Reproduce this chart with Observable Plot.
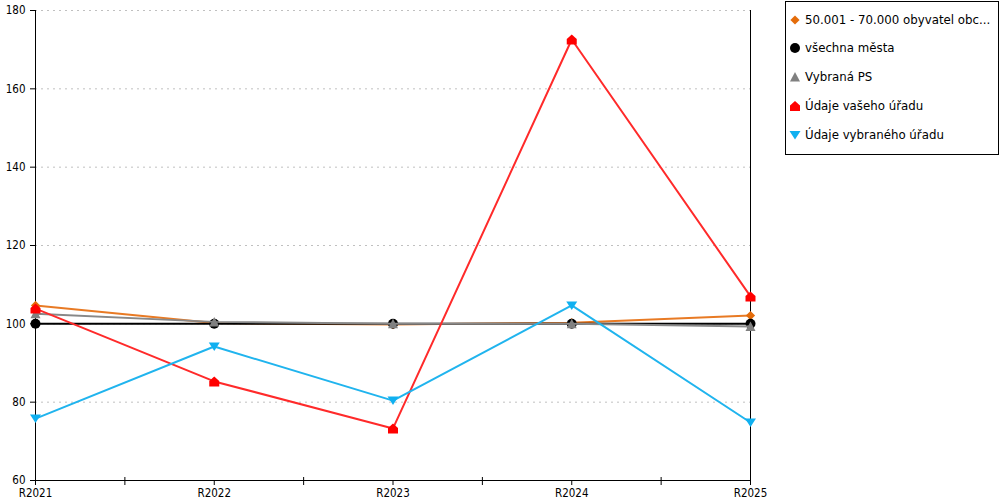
<!DOCTYPE html>
<html>
<head>
<meta charset="utf-8">
<script src="https://cdn.jsdelivr.net/npm/d3@7"></script>
<script src="https://cdn.jsdelivr.net/npm/@observablehq/plot@0.6"></script>
<style>
  html, body { margin: 0; padding: 0; background: #fff; }
  #wrap { position: relative; width: 1000px; height: 500px; font-family: "DejaVu Sans", Verdana, sans-serif; }
  #legend { position: absolute; left: 785px; top: 1px; width: 212px; height: 152px; border: 1px solid #000; background: #fff; }
  .item { position: absolute; left: 0; height: 16px; display: flex; align-items: center; font-size: 11.8px; color: #000; white-space: nowrap; }
  .item svg { margin-left: 3px; margin-right: 4px; }
</style>
</head>
<body>
<div id="wrap"><div id="legend"></div></div>
<script>
const categories = ["R2021", "R2022", "R2023", "R2024", "R2025"];
const yTicks = [60, 80, 100, 120, 140, 160, 180];
const minorTicks = [0.5, 1.5, 2.5, 3.5];

const seriesNames = ["50.001 - 70.000 obyvatel obc...", "všechna města", "Vybraná PS", "Údaje vašeho úřadu", "Údaje vybraného úřadu"];
const seriesColors = ["#e46c0a", "#000000", "#808080", "#ff0000", "#10b0f0"];
const lineColors = ["#e87a24", "#000000", "#888888", "#ff2a2a", "#20b4ee"];

const orangeValues = [104.7, 100.2, 99.8, 100.3, 102.1];
const blackValues = [100, 100, 100, 100, 100];
const grayValues = [102.6, 100.5, 100.0, 100.0, 99.3];
const redValues = [103.9, 85.3, 73.3, 172.6, 107.0];
const blueValues = [75.8, 94.2, 80.4, 104.7, 74.8];

const allValues = [orangeValues, blackValues, grayValues, redValues, blueValues];

// custom symbols
const diamond = { draw(ctx, size) { const r = Math.sqrt(size / Math.PI); ctx.moveTo(0, -r); ctx.lineTo(r, 0); ctx.lineTo(0, r); ctx.lineTo(-r, 0); ctx.closePath(); } };
const circle = { draw(ctx, size) { const r = Math.sqrt(size / Math.PI); ctx.moveTo(r, 0); ctx.arc(0, 0, r, 0, 2 * Math.PI); ctx.closePath(); } };
const triUp = { draw(ctx, size) { const r = Math.sqrt(size / Math.PI); ctx.moveTo(0, -r); ctx.lineTo(r, r * 0.9); ctx.lineTo(-r, r * 0.9); ctx.closePath(); } };
const house = { draw(ctx, size) { const r = Math.sqrt(size / Math.PI); ctx.moveTo(0, -r); ctx.lineTo(r, -r * 0.1); ctx.lineTo(r, r); ctx.lineTo(-r, r); ctx.lineTo(-r, -r * 0.1); ctx.closePath(); } };
const triDown = { draw(ctx, size) { const r = Math.sqrt(size / Math.PI); ctx.moveTo(-r * 1.1, -r * 0.8); ctx.lineTo(r * 1.1, -r * 0.8); ctx.lineTo(0, r * 0.9); ctx.closePath(); } };
const symbols = [diamond, circle, triUp, house, triDown];
const radii = [4.6, 5, 5, 5, 5];

const tickFont = "'DejaVu Sans Condensed', 'DejaVu Sans', sans-serif";

const marks = [
  Plot.gridY(yTicks.filter(v => v > 60), { stroke: "#c0c0c0", strokeOpacity: 1, strokeDasharray: "2,4", strokeWidth: 1 }),
  Plot.ruleX([0, 4], { stroke: "#000", strokeWidth: 1 }),
  Plot.ruleY([60], { stroke: "#000", strokeWidth: 1 }),
  Plot.axisY({ ticks: yTicks, tickSize: 5, tickPadding: 5, fontSize: 11.5, fontFamily: tickFont, label: null }),
  Plot.axisX({ ticks: [0, 1, 2, 3, 4], tickSize: 5, tickPadding: 3, fontSize: 11.5, fontFamily: tickFont, tickFormat: i => categories[i], label: null }),
  Plot.axisX({ ticks: minorTicks, tickSize: 8, dy: -3, tickFormat: () => "", label: null })
];

allValues.forEach((vals, s) => {
  const data = vals.map((v, i) => ({ x: i, y: v }));
  marks.push(Plot.line(data, { x: "x", y: "y", stroke: lineColors[s], strokeWidth: 2 }));
  marks.push(Plot.dot(data, { x: "x", y: "y", symbol: symbols[s], r: radii[s], fill: seriesColors[s], stroke: "none" }));
});

const chart = Plot.plot({
  width: 1000,
  height: 500,
  marginLeft: 35,
  marginRight: 250,
  marginTop: 10,
  marginBottom: 20,
  style: { fontFamily: tickFont, fontSize: "11.5px", color: "#000", background: "#fff" },
  x: { type: "linear", domain: [0, 4], axis: null },
  y: { domain: [60, 180], axis: null },
  marks
});
document.getElementById("wrap").prepend(chart);

// legend
const legend = document.getElementById("legend");
const centers = [19, 47, 76, 105, 134];
seriesNames.forEach((name, s) => {
  const item = document.createElement("div");
  item.className = "item";
  item.style.top = (centers[s] - 1 - 8) + "px";
  const svg = d3.create("svg").attr("width", 12).attr("height", 12);
  const p = d3.path();
  symbols[s].draw(p, Math.PI * radii[s] * radii[s]);
  svg.append("path").attr("transform", "translate(6,6)").attr("d", p.toString()).attr("fill", seriesColors[s]);
  item.appendChild(svg.node());
  const span = document.createElement("span");
  span.textContent = name;
  item.appendChild(span);
  legend.appendChild(item);
});
</script>
</body>
</html>
